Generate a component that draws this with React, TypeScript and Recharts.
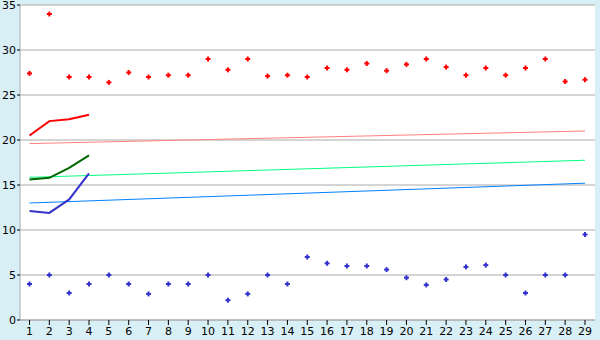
import { CartesianGrid, ComposedChart, Line, XAxis, YAxis } from "recharts";

const categories = ["1", "2", "3", "4", "5", "6", "7", "8", "9", "10", "11", "12", "13", "14", "15", "16", "17", "18", "19", "20", "21", "22", "23", "24", "25", "26", "27", "28", "29"];

// scatter points
const redPoints = [27.4, 34, 27, 27, 26.4, 27.5, 27, 27.2, 27.2, 29, 27.8, 29, 27.1, 27.2, 27, 28, 27.8, 28.5, 27.7, 28.4, 29, 28.1, 27.2, 28, 27.2, 28, 29, 26.5, 26.7];
const bluePoints = [4, 5, 3, 4, 5, 4, 2.9, 4, 4, 5, 2.2, 2.9, 5, 4, 7, 6.3, 6, 6, 5.6, 4.7, 3.9, 4.5, 5.9, 6.1, 5, 3, 5, 5, 9.5];

// short lines over the first categories
const redLine = [20.5, 22.1, 22.3, 22.8];
const greenLine = [15.6, 15.8, 16.9, 18.3];
const blueLine = [12.1, 11.9, 13.4, 16.3];

// trend lines: value at first and last category
const redTrend = [19.6, 21.0];
const greenTrend = [15.85, 17.75];
const blueTrend = [13.0, 15.2];

const yTicks = [0, 5, 10, 15, 20, 25, 30, 35];

const last = categories.length - 1;
const ends = (pair: number[], i: number) => (i === 0 ? pair[0] : i === last ? pair[1] : null);

const data = categories.map((name, i) => ({
  name,
  redPoints: redPoints[i],
  bluePoints: bluePoints[i],
  redLine: redLine[i] ?? null,
  greenLine: greenLine[i] ?? null,
  blueLine: blueLine[i] ?? null,
  redTrend: ends(redTrend, i),
  greenTrend: ends(greenTrend, i),
  blueTrend: ends(blueTrend, i),
}));

const tickStyle = { fill: "#000", fontSize: 11, fontFamily: "DejaVu Sans" };

function marker(color: string) {
  return (props: any) => {
    const { cx, cy, index } = props;
    if (cx == null || cy == null) return <g key={index} />;
    return (
      <g key={index} fill={color}>
        <rect x={cx - 2.5} y={cy - 1} width={5} height={2} />
        <rect x={cx - 1} y={cy - 2.5} width={2} height={5} />
      </g>
    );
  };
}

export default function App() {
  return (
    <div style={{ position: "absolute", left: 0, top: 0, width: 600, height: 340, background: "#D9EFF6" }}>
      <ComposedChart width={600} height={340} data={data} margin={{ top: 5, right: 5, bottom: 0, left: 0 }}>
        <CartesianGrid vertical={false} stroke="#aaaaaa" fill="#ffffff" />
        <XAxis
          dataKey="name"
          stroke="#aaaaaa"
          tick={tickStyle}
          tickSize={5}
          tickMargin={2}
          height={20}
          interval={0}
          padding={{ left: 9.5, right: 10 }}
          tickLine={{ stroke: "#000" }}
        />
        <YAxis
          domain={[0, 35]}
          ticks={yTicks}
          stroke="#aaaaaa"
          tick={tickStyle}
          tickSize={3}
          tickMargin={1}
          width={20}
          interval={0}
          tickLine={{ stroke: "#000" }}
        />
        <YAxis yAxisId="right" orientation="right" width={0} tick={false} tickLine={false} stroke="#aaaaaa" />
        <Line dataKey="redTrend" stroke="#FF8080" strokeWidth={1} dot={false} connectNulls isAnimationActive={false} />
        <Line dataKey="greenTrend" stroke="#00FF80" strokeWidth={1} dot={false} connectNulls isAnimationActive={false} />
        <Line dataKey="blueTrend" stroke="#0080FF" strokeWidth={1} dot={false} connectNulls isAnimationActive={false} />
        <Line dataKey="redLine" stroke="#FF0000" strokeWidth={2} dot={false} isAnimationActive={false} />
        <Line dataKey="greenLine" stroke="#006600" strokeWidth={2} dot={false} isAnimationActive={false} />
        <Line dataKey="blueLine" stroke="#3333CC" strokeWidth={2} dot={false} isAnimationActive={false} />
        <Line dataKey="redPoints" stroke="none" dot={marker("#FF0000")} activeDot={false} isAnimationActive={false} />
        <Line dataKey="bluePoints" stroke="none" dot={marker("#3333CC")} activeDot={false} isAnimationActive={false} />
      </ComposedChart>
    </div>
  );
}
